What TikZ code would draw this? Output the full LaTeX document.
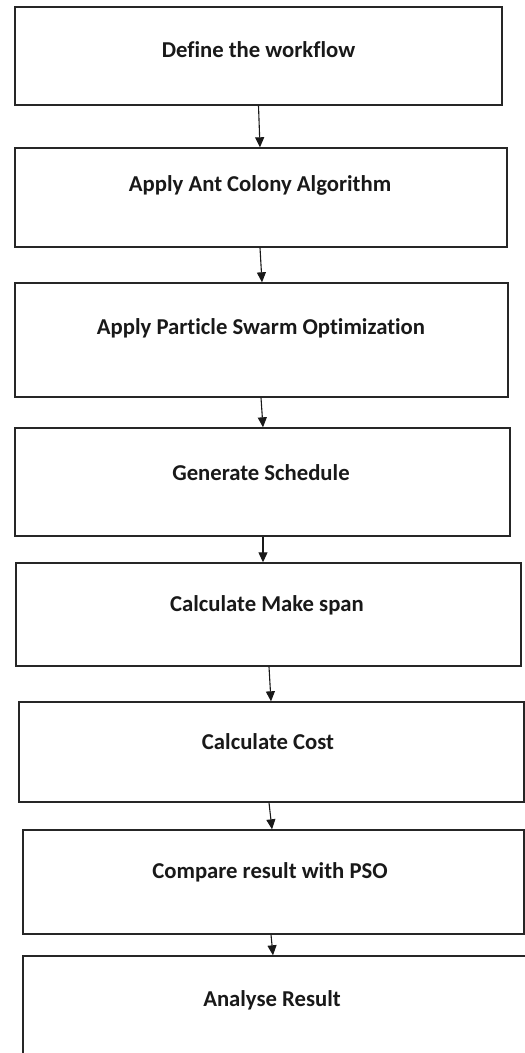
\documentclass[tikz,border=0pt]{standalone}
\usepackage{fontspec}
\setmainfont{Carlito}[Ligatures=NoCommon]
\usetikzlibrary{arrows.meta}
\tikzset{
  stepbox/.style={draw=black!85, line width=1.4pt, rectangle, inner sep=0pt},
  steptext/.style={font=\bfseries\fontsize{22.7}{26}\selectfont, text=black!90, inner sep=0pt},
  flow/.style={draw=black!90, line width=1.1pt, -{Triangle[width=9pt,length=10pt]}}
}
\begin{document}
\begin{tikzpicture}[x=1pt,y=-1pt]
\path[use as bounding box] (0,0) rectangle (525,1053);
\clip (0,0) rectangle (525,1053);
\fill[white] (0,0) rectangle (525,1053);
% boxes
\node[stepbox, minimum width=487pt, minimum height=98pt] (b1) at (258.5,56) {};
\node[stepbox, minimum width=492pt, minimum height=99pt] (b2) at (261,197.5) {};
\node[stepbox, minimum width=493pt, minimum height=114pt] (b3) at (261.5,340) {};
\node[stepbox, minimum width=495pt, minimum height=108pt] (b4) at (262.5,482) {};
\node[stepbox, minimum width=505pt, minimum height=103pt] (b5) at (268.5,614.5) {};
\node[stepbox, minimum width=505pt, minimum height=100pt] (b6) at (271.5,752) {};
\node[stepbox, minimum width=501pt, minimum height=104pt] (b7) at (273.5,882) {};
\node[stepbox, minimum width=507pt, minimum height=114pt] (b8) at (276.5,1013) {};
% texts
\node[steptext] (t1) at (258.5,50) {Define the workflow};
\node[steptext] (t2) at (260,185) {Apply Ant Colony Algorithm};
\node[steptext] (t3) at (261,328) {Apply Particle Swarm Optimization};
\node[steptext] (t4) at (261,473) {Generate Schedule};
\node[steptext] (t5) at (267,605) {Calculate Make span};
\node[steptext] (t6) at (268,742) {Calculate Cost};
\node[steptext] (t7) at (270,872) {Compare result with PSO};
\node[steptext] (t8) at (272,1000) {Analyse Result};
% arrows
\draw[flow] ([xshift=0pt]b1.south) -- ([xshift=-1pt]b2.north);
\draw[flow] ([xshift=-1pt]b2.south) -- ([xshift=0.5pt]b3.north);
\draw[flow] ([xshift=-0.5pt]b3.south) -- ([xshift=0.5pt]b4.north);
\draw[flow] ([xshift=0.5pt]b4.south) -- ([xshift=-5.5pt]b5.north);
\draw[flow] ([xshift=0.5pt]b5.south) -- ([xshift=-0.5pt]b6.north);
\draw[flow] ([xshift=-2.5pt]b6.south) -- ([xshift=-1.5pt]b7.north);
\draw[flow] ([xshift=-2.5pt]b7.south) -- ([xshift=-3.5pt]b8.north);
\end{tikzpicture}
\end{document}
